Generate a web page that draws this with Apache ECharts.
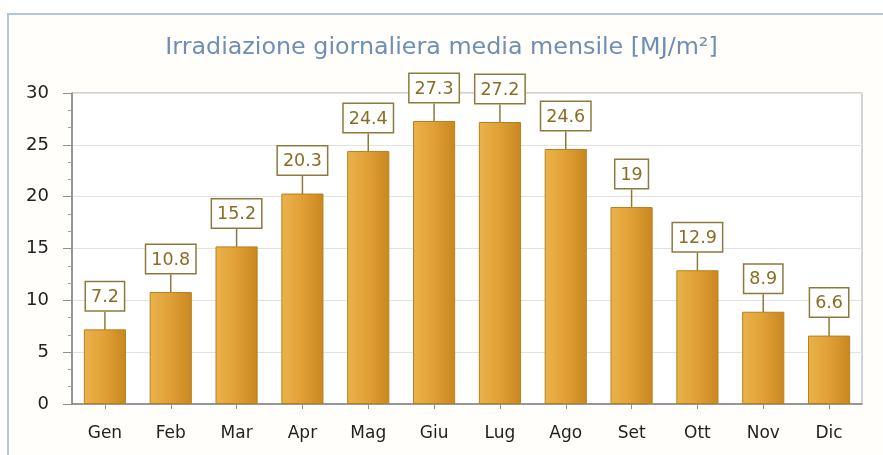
<!DOCTYPE html>
<html>
<head>
<meta charset="utf-8">
<script src="https://cdn.jsdelivr.net/npm/echarts@6/dist/echarts.min.js"></script>
<style>
html,body{margin:0;padding:0;background:#ffffff;}
#frame{position:absolute;left:7px;top:13px;width:876px;height:442px;border-left:2px solid #b3c6de;border-top:2px solid #b3c6de;box-sizing:border-box;background:#fffefb;}
#chart{position:absolute;left:0;top:0;width:883px;height:455px;}
</style>
</head>
<body>
<div id="frame"></div>
<div id="chart"></div>
<script>
var titleText = 'Irradiazione giornaliera media mensile [MJ/m²]';
var months = ['Gen','Feb','Mar','Apr','Mag','Giu','Lug','Ago','Set','Ott','Nov','Dic'];
var irradiation = [7.2, 10.8, 15.2, 20.3, 24.4, 27.3, 27.2, 24.6, 19, 12.9, 8.9, 6.6];
var yMin = 0, yMax = 30, yStep = 5;

var chart = echarts.init(document.getElementById('chart'), null, {renderer:'canvas'});
chart.setOption({
  backgroundColor: 'transparent',
  animation: false,
  title: {
    text: titleText,
    left: 'center',
    top: 31,
    textStyle: {fontFamily: 'DejaVu Sans', fontSize: 23.8, fontWeight: 'normal', color: '#6e8fb3'}
  },
  grid: {left: 72, right: 21, top: 93, bottom: 51, show: true, borderColor: '#a8a8a8', borderWidth: 1, backgroundColor: '#ffffff'},
  xAxis: {
    type: 'category',
    data: months,
    axisLine: {lineStyle: {color: '#808080', width: 1.5}},
    axisTick: {show: true, alignWithLabel: true, length: 5, lineStyle: {color: '#909090'}},
    axisLabel: {fontFamily: 'DejaVu Sans', fontSize: 17, color: '#222', margin: 21}
  },
  yAxis: {
    type: 'value',
    min: yMin, max: yMax, interval: yStep,
    axisLine: {show: true, lineStyle: {color: '#808080', width: 1.5}},
    axisTick: {show: true, length: 9, lineStyle: {color: '#909090'}},
    minorTick: {show: true, splitNumber: 3, length: 4, lineStyle: {color: '#a0a0a0'}},
    splitLine: {lineStyle: {color: '#e2e2e2'}},
    axisLabel: {fontFamily: 'DejaVu Sans', fontSize: 18, color: '#222', margin: 23}
  },
  series: [{
    type: 'bar',
    data: irradiation,
    barWidth: '64%',
    itemStyle: {
      borderColor: '#b4821d',
      borderWidth: 1,
      color: new echarts.graphic.LinearGradient(0, 0, 1, 0, [
        {offset: 0, color: '#ebb24b'},
        {offset: 0.5, color: '#e0a036'},
        {offset: 1, color: '#c9871f'}
      ])
    },
    label: {
      show: true,
      position: 'top',
      distance: 0,
      fontFamily: 'DejaVu Sans',
      fontSize: 17.5,
      color: '#8a6d22',
      backgroundColor: '#ffffff',
      borderColor: '#8c7a3c',
      borderWidth: 1.5,
      padding: [6, 5, 4, 5]
    },
    labelLayout: {dy: -19},
    labelLine: {show: true, lineStyle: {color: '#8c7a3c', width: 1.5}}
  }]
});
</script>
</body>
</html>
